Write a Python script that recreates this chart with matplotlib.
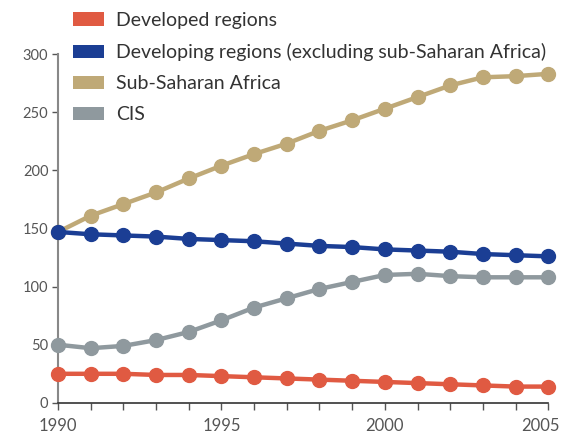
import matplotlib
matplotlib.use("Agg")
import matplotlib.pyplot as plt
import matplotlib.transforms as mtransforms
from matplotlib.patches import Patch

plt.rcParams['font.family'] = ['Lato', 'DejaVu Sans']

years = list(range(1990, 2006))
developed = [25, 25, 25, 24, 24, 23, 22, 21, 20, 19, 18, 17, 16, 15, 14, 14]
developing = [147, 145, 144, 143, 141, 140, 139, 137, 135, 134, 132, 131, 130, 128, 127, 126]
ssa = [147, 161, 171, 181, 193, 204, 214, 223, 234, 243, 253, 263, 273, 280, 281, 283]
cis = [50, 47, 49, 54, 61, 71, 82, 90, 98, 104, 110, 111, 109, 108, 108, 108]

labels = ['Developed regions', 'Developing regions (excluding sub-Saharan Africa)',
          'Sub-Saharan Africa', 'CIS']
colors = ['#e05a42', '#1b3e94', '#bfa977', '#8f999e']
series = [developed, developing, ssa, cis]

fig = plt.figure(figsize=(5.64, 4.36), dpi=100)
ax = fig.add_axes([0.103, 0.076, 0.869, 0.8])

# draw order: grey and tan under blue and red
for i in [2, 3, 1, 0]:
    ax.plot(years, series[i], color=colors[i], lw=3.2, marker='o', ms=10,
            clip_on=False, zorder=3)

ax.set_xlim(1990, 2005)
ax.set_ylim(0, 300)
ax.set_yticks(range(0, 301, 50))
ax.set_xticks([1990, 1995, 2000, 2005])
ax.set_xticks(years, minor=True)

for s in ['top', 'right']:
    ax.spines[s].set_visible(False)
ax.spines['left'].set_color('#888888')
ax.spines['left'].set_linewidth(1.5)
ax.spines['bottom'].set_color('#333333')
ax.spines['bottom'].set_linewidth(1.2)

ax.tick_params(axis='y', length=4, width=1, color='#555555', labelsize=10.5,
               labelcolor='#555555', pad=3)
ax.tick_params(axis='x', which='both', length=5, width=1, color='#555555')
ax.tick_params(axis='x', which='major', labelsize=12, labelcolor='#555555', pad=6)

# nudge last year label so it stays inside the figure
last = ax.get_xticklabels()[-1]
last.set_transform(last.get_transform() +
                   mtransforms.ScaledTranslation(-8 / 100, 0, fig.dpi_scale_trans))

handles = [Patch(facecolor=c, edgecolor='none') for c in colors]
fig.legend(handles, labels, loc='upper left', bbox_to_anchor=(0.129, 0.972),
           frameon=False, fontsize=14, handlelength=1.6, handleheight=0.72,
           handletextpad=0.62, labelspacing=0.72, borderpad=0, borderaxespad=0,
           labelcolor='#333333')

fig.savefig('out.png', dpi=100)
